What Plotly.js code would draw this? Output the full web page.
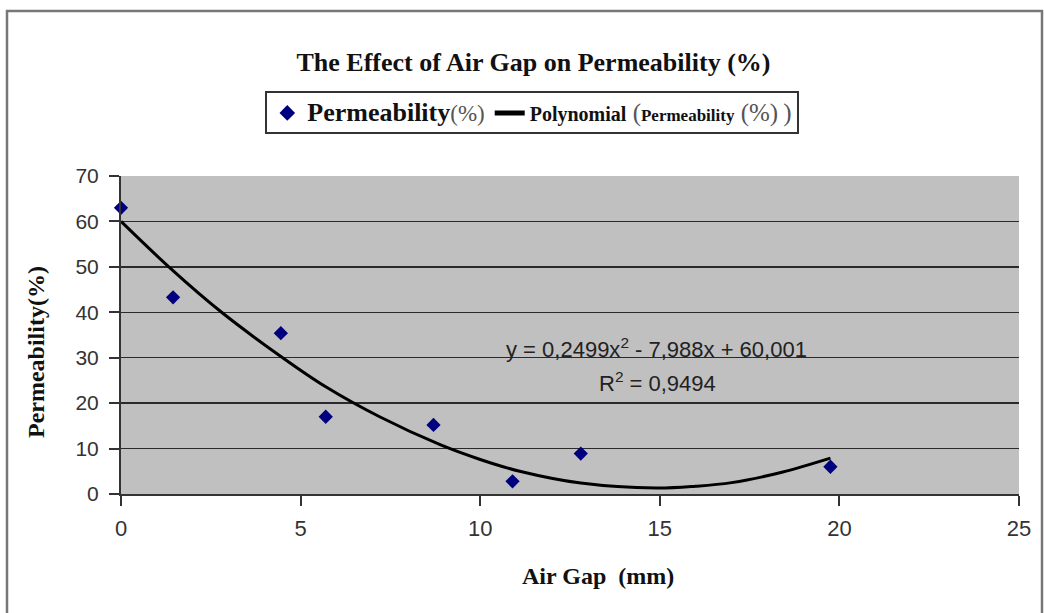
<!DOCTYPE html>
<html>
<head>
<meta charset="utf-8">
<script src="https://cdn.plot.ly/plotly-3.0.1.min.js"></script>
<style>
html,body{margin:0;padding:0;background:#fff;}
#chart{width:1044px;height:613px;}
</style>
</head>
<body>
<div id="chart"></div>
<script>
// Measured data points
const airGap = [0, 1.45, 4.45, 5.7, 8.7, 10.9, 12.8, 19.75];
const permeability = [63, 43.3, 35.4, 17, 15.2, 2.8, 8.9, 6];

// Trend curve as drawn
const trendX = [0, 1.4, 2.8, 4.5, 5.7, 7.2, 8.9, 10, 11.1, 12.8, 14.9, 16, 17.0, 18.4, 19.75];
const trendY = [60, 49.5, 40, 30, 23.6, 17, 10.8, 7.6, 5, 2.4, 1.3, 1.7, 2.5, 4.8, 7.9];

const xTicks = [0, 5, 10, 15, 20, 25];
const yTicks = [0, 10, 20, 30, 40, 50, 60, 70];

const serif = 'Liberation Serif, Times New Roman, serif';
const sans = 'Liberation Sans, Arial, sans-serif';

const traces = [
  {
    x: airGap, y: permeability,
    type: 'scatter', mode: 'markers',
    name: '<b><span style="font-size:26px">Permeability</span></b><span style="font-size:23px;color:#555">(%)</span>',
    marker: {symbol: 'diamond', size: 11, color: '#00007f'},
    cliponaxis: false
  },
  {
    x: trendX, y: trendY,
    type: 'scatter', mode: 'lines',
    name: '<b><span style="font-size:20px">Polynomial</span></b><span style="font-size:25px;color:#555"> (</span><b><span style="font-size:17px">Permeability</span></b><span style="font-size:25px;color:#555"> (%)\u2009)</span>',
    line: {color: '#000', width: 3, shape: 'spline', smoothing: 1},
    cliponaxis: false
  }
];

const layout = {
  width: 1044, height: 613,
  margin: {l: 121, r: 25, t: 176, b: 119},
  paper_bgcolor: '#fff',
  plot_bgcolor: '#c0c0c0',
  showlegend: true,
  title: {
    text: '<b>The Effect of Air Gap on Permeability (%)</b>',
    font: {family: serif, size: 26, color: '#111'},
    x: 0.511, xanchor: 'center', y: 0.899, yanchor: 'middle', yref: 'container'
  },
  legend: {
    orientation: 'h',
    x: 0.458, xanchor: 'center',
    y: 1.266, yanchor: 'top',
    bordercolor: '#333', borderwidth: 2,
    bgcolor: '#fff',
    font: {family: serif, size: 20, color: '#111'},
    itemsizing: 'constant',
    tracegroupgap: 0,
    itemwidth: 30
  },
  xaxis: {
    range: [0, 25],
    tickvals: xTicks,
    ticktext: xTicks.map(String),
    showgrid: false, zeroline: false,
    showline: true, linecolor: '#333', linewidth: 2,
    ticks: 'outside', ticklen: 10, tickcolor: '#333', tickwidth: 2,
    ticklabelstandoff: 4,
    tickfont: {family: sans, size: 22, color: '#333'}
  },
  yaxis: {
    range: [0, 70],
    tickvals: yTicks,
    ticktext: yTicks.map(String),
    showgrid: true, gridcolor: '#2a2a2a', gridwidth: 1.5,
    zeroline: false,
    showline: true, linecolor: '#333', linewidth: 2,
    ticks: 'outside', ticklen: 10, tickcolor: '#333', tickwidth: 2,
    ticklabelstandoff: 6,
    tickfont: {family: sans, size: 21, color: '#333'}
  },
  annotations: [
    {
      xref: 'paper', yref: 'paper',
      x: (656 - 121) / 898, y: (494 - 348) / 318,
      xanchor: 'center', yanchor: 'middle', showarrow: false,
      text: 'y = 0,2499x<sup>2</sup> - 7,988x + 60,001',
      font: {family: sans, size: 22, color: '#222'}
    },
    {
      xref: 'paper', yref: 'paper',
      x: (657 - 121) / 898, y: (494 - 382) / 318,
      xanchor: 'center', yanchor: 'middle', showarrow: false,
      text: 'R<sup>2</sup> = 0,9494',
      font: {family: sans, size: 22, color: '#222'}
    },
    {
      xref: 'paper', yref: 'paper',
      x: (598 - 121) / 898, y: (494 - 576) / 318,
      xanchor: 'center', yanchor: 'middle', showarrow: false,
      text: '<b>Air Gap  (mm)</b>',
      font: {family: serif, size: 24, color: '#111'}
    },
    {
      xref: 'paper', yref: 'paper',
      x: (36 - 121) / 898, y: (494 - 352) / 318,
      xanchor: 'center', yanchor: 'middle', showarrow: false,
      textangle: -90,
      text: '<b>Permeability(%)</b>',
      font: {family: serif, size: 24, color: '#111'}
    }
  ],
  shapes: [
    {
      type: 'rect', xref: 'paper', yref: 'paper',
      x0: (7 - 121) / 898, x1: (1042 - 121) / 898,
      y0: (494 - 640) / 318, y1: (494 - 11) / 318,
      line: {color: '#777', width: 2.5}, fillcolor: 'rgba(0,0,0,0)', layer: 'below'
    }
  ]
};

Plotly.newPlot('chart', traces, layout, {displayModeBar: false, staticPlot: true});
</script>
</body>
</html>
